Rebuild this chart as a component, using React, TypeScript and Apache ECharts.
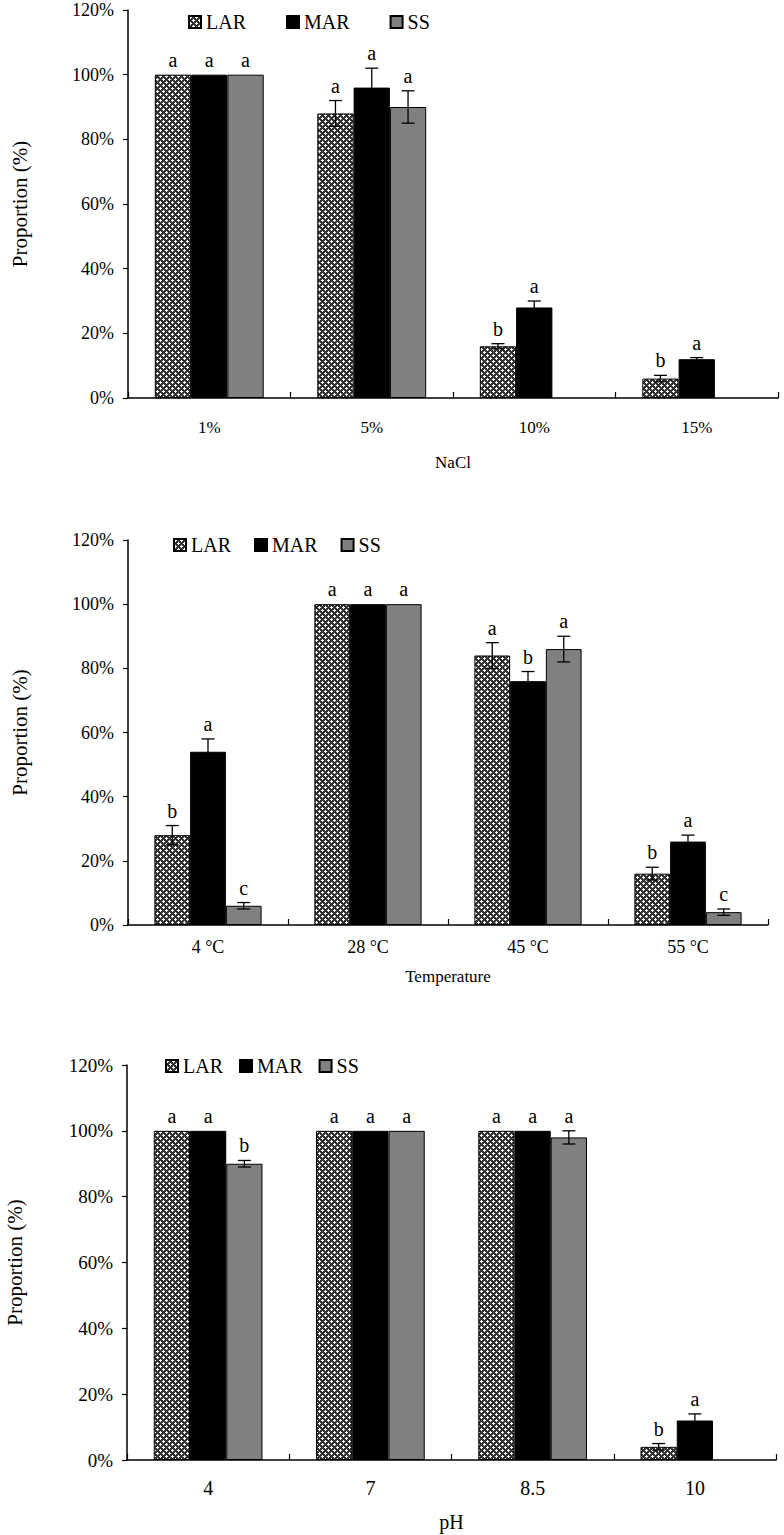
import React, { useEffect, useRef } from 'react';
import * as echarts from 'echarts';

const SERIES_NAMES = ['LAR', 'MAR', 'SS'];

// Panel 1: NaCl
const naclCategories = ['1%', '5%', '10%', '15%'];
const naclLAR = [100, 88, 16, 6];
const naclMAR = [100, 96, 28, 12];
const naclSS: (number | null)[] = [100, 90, null, null];
const naclLARErr = [0, 4, 0.8, 1];
const naclMARErr = [0, 6, 2, 0.5];
const naclSSErr = [0, 5, 0, 0];
const naclLARSig = ['a', 'a', 'b', 'b'];
const naclMARSig = ['a', 'a', 'a', 'a'];
const naclSSSig = ['a', 'a', '', ''];

// Panel 2: Temperature
const tempCategories = ['4 °C', '28 °C', '45 °C', '55 °C'];
const tempLAR = [28, 100, 84, 16];
const tempMAR = [54, 100, 76, 26];
const tempSS = [6, 100, 86, 4];
const tempLARErr = [3, 0, 4, 2];
const tempMARErr = [4, 0, 3, 2];
const tempSSErr = [1, 0, 4, 1];
const tempLARSig = ['b', 'a', 'a', 'b'];
const tempMARSig = ['a', 'a', 'b', 'a'];
const tempSSSig = ['c', 'a', 'a', 'c'];

// Panel 3: pH
const phCategories = ['4', '7', '8.5', '10'];
const phLAR = [100, 100, 100, 4];
const phMAR = [100, 100, 100, 12];
const phSS: (number | null)[] = [90, 100, 98, null];
const phLARErr = [0, 0, 0, 1];
const phMARErr = [0, 0, 0, 2];
const phSSErr = [1, 0, 2, 0];
const phLARSig = ['a', 'a', 'a', 'b'];
const phMARSig = ['a', 'a', 'a', 'a'];
const phSSSig = ['b', 'a', 'a', ''];

const yTicks = { min: 0, max: 120, interval: 20 };

const FONT = "'Liberation Serif', 'Times New Roman', serif";
const CAT_GAP = 0.33;

function makePattern() {
  const c = document.createElement('canvas');
  c.width = 6;
  c.height = 6;
  const ctx = c.getContext('2d')!;
  ctx.fillStyle = '#333333';
  ctx.fillRect(0, 0, 6, 6);
  ctx.fillStyle = '#ffffff';
  const plus = (cx: number, cy: number) => {
    ctx.fillRect(cx - 1, cy, 3, 1);
    ctx.fillRect(cx, cy - 1, 1, 3);
  };
  plus(1, 1);
  plus(4, 4);
  return c;
}

type Panel = {
  cats: string[];
  vals: (number | null)[][];
  errs: number[][];
  sigs: string[][];
  xName: string;
  grid: { left: number; right: number; top: number; height: number };
  legend: { left: number; top: number; itemGap: number };
  labelMargin: number;
  xLabelSize: number;
  yLabelSize: number;
  xNameSize: number;
  xNameGap: number;
  yNameGap: number;
};

const panels: Panel[] = [
  {
    cats: naclCategories,
    vals: [naclLAR, naclMAR, naclSS],
    errs: [naclLARErr, naclMARErr, naclSSErr],
    sigs: [naclLARSig, naclMARSig, naclSSSig],
    xName: 'NaCl',
    grid: { left: 128, right: 6, top: 10, height: 388 },
    legend: { left: 183, top: 7, itemGap: 40 },
    labelMargin: 21,
    xLabelSize: 17,
    yLabelSize: 18,
    xNameSize: 17,
    xNameGap: 56,
    yNameGap: 98,
  },
  {
    cats: tempCategories,
    vals: [tempLAR, tempMAR, tempSS],
    errs: [tempLARErr, tempMARErr, tempSSErr],
    sigs: [tempLARSig, tempMARSig, tempSSSig],
    xName: 'Temperature',
    grid: { left: 128, right: 16, top: 540, height: 385 },
    legend: { left: 168, top: 530, itemGap: 23 },
    labelMargin: 13,
    xLabelSize: 18,
    yLabelSize: 18,
    xNameSize: 17,
    xNameGap: 43,
    yNameGap: 98,
  },
  {
    cats: phCategories,
    vals: [phLAR, phMAR, phSS],
    errs: [phLARErr, phMARErr, phSSErr],
    sigs: [phLARSig, phMARSig, phSSSig],
    xName: 'pH',
    grid: { left: 127, right: 8, top: 1065, height: 395 },
    legend: { left: 160, top: 1051, itemGap: 16 },
    labelMargin: 18,
    xLabelSize: 20,
    yLabelSize: 19,
    xNameSize: 20,
    xNameGap: 52,
    yNameGap: 102,
  },
];

export default function App() {
  const ref = useRef<HTMLDivElement>(null);

  useEffect(() => {
    if (!ref.current) return;
    const chart = echarts.init(ref.current, undefined, { renderer: 'svg' });
    const pattern = makePattern();
    const colors: any[] = [
      { image: pattern, repeat: 'repeat', imageWidth: 6, imageHeight: 6 },
      '#000000',
      '#808080',
    ];

    const grids: any[] = [];
    const xAxes: any[] = [];
    const yAxes: any[] = [];
    const legends: any[] = [];
    const series: any[] = [];

    panels.forEach((p, pi) => {
      grids.push({ ...p.grid, outerBoundsMode: 'none', containLabel: false });
      legends.push({
        left: p.legend.left,
        top: p.legend.top,
        itemGap: p.legend.itemGap,
        orient: 'horizontal',
        itemWidth: 12,
        itemHeight: 12,
        icon: 'rect',
        data: SERIES_NAMES,
        selectedMode: false,
        textStyle: { fontFamily: FONT, fontSize: 20, color: '#000' },
      });
      xAxes.push({
        type: 'category',
        gridIndex: pi,
        data: p.cats,
        boundaryGap: true,
        name: p.xName,
        nameLocation: 'middle',
        nameGap: p.xNameGap,
        nameTextStyle: { fontFamily: FONT, fontSize: p.xNameSize, color: '#000' },
        axisLine: { show: true, lineStyle: { color: '#000', width: 1.5 } },
        axisTick: { show: true, inside: true, length: 6, alignWithLabel: false, lineStyle: { color: '#000', width: 1.2 } },
        axisLabel: { fontFamily: FONT, fontSize: p.xLabelSize, color: '#000', margin: p.labelMargin },
        splitLine: { show: false },
      });
      yAxes.push({
        type: 'value',
        gridIndex: pi,
        min: yTicks.min,
        max: yTicks.max,
        interval: yTicks.interval,
        name: 'Proportion (%)',
        nameLocation: 'middle',
        nameGap: p.yNameGap,
        nameRotate: 90,
        nameTextStyle: { fontFamily: FONT, fontSize: 21, color: '#000' },
        axisLine: { show: true, lineStyle: { color: '#000', width: 1.5 } },
        axisTick: { show: true, inside: false, length: 5, lineStyle: { color: '#000', width: 1.2 } },
        axisLabel: { fontFamily: FONT, fontSize: p.yLabelSize, color: '#000', margin: 14, formatter: '{value}%' },
        splitLine: { show: false },
      });

      p.vals.forEach((vals, k) => {
        series.push({
          type: 'bar',
          name: SERIES_NAMES[k],
          xAxisIndex: pi,
          yAxisIndex: pi,
          data: vals,
          barGap: '0%',
          barCategoryGap: CAT_GAP * 100 + '%',
          itemStyle: { color: colors[k], borderColor: '#000', borderWidth: 1 },
          emphasis: { disabled: true },
          silent: true,
          z: 2,
        });
      });

      const customData: number[][] = [];
      const letters: string[] = [];
      p.vals.forEach((vals, k) => {
        vals.forEach((v, i) => {
          if (v == null) return;
          customData.push([i, v, p.errs[k][i], k]);
          letters.push(p.sigs[k][i]);
        });
      });

      series.push({
        type: 'custom',
        name: 'err' + pi,
        xAxisIndex: pi,
        yAxisIndex: pi,
        data: customData,
        silent: true,
        z: 5,
        renderItem: (params: any, api: any) => {
          const cat = api.value(0);
          const val = api.value(1);
          const err = api.value(2);
          const k = api.value(3);
          const band = api.size([1, 0])[0];
          const bw = (band * (1 - CAT_GAP)) / 3;
          const center = api.coord([cat, 0])[0];
          const x = center + (k - 1) * bw;
          const top = api.coord([cat, val + err])[1];
          const bottom = api.coord([cat, val - err])[1];
          const children: any[] = [];
          const ls = { stroke: '#000', lineWidth: 1.3 };
          if (err > 0) {
            children.push({ type: 'line', shape: { x1: x, y1: top, x2: x, y2: bottom }, style: ls });
            children.push({ type: 'line', shape: { x1: x - 6.5, y1: top, x2: x + 6.5, y2: top }, style: ls });
            children.push({ type: 'line', shape: { x1: x - 6.5, y1: bottom, x2: x + 6.5, y2: bottom }, style: ls });
          }
          const letter = letters[params.dataIndex];
          if (letter) {
            children.push({
              type: 'text',
              x: x,
              y: top - 5,
              style: {
                text: letter,
                fill: '#000',
                font: `20px ${FONT}`,
                align: 'center',
                verticalAlign: 'bottom',
              },
            });
          }
          return { type: 'group', children };
        },
      });
    });

    chart.setOption({
      animation: false,
      backgroundColor: '#ffffff',
      textStyle: { fontFamily: FONT },
      grid: grids,
      legend: legends,
      xAxis: xAxes,
      yAxis: yAxes,
      series,
    });

    return () => chart.dispose();
  }, []);

  return (
    <div
      ref={ref}
      style={{ position: 'absolute', left: 0, top: 0, width: 784, height: 1535, background: '#fff' }}
    />
  );
}
